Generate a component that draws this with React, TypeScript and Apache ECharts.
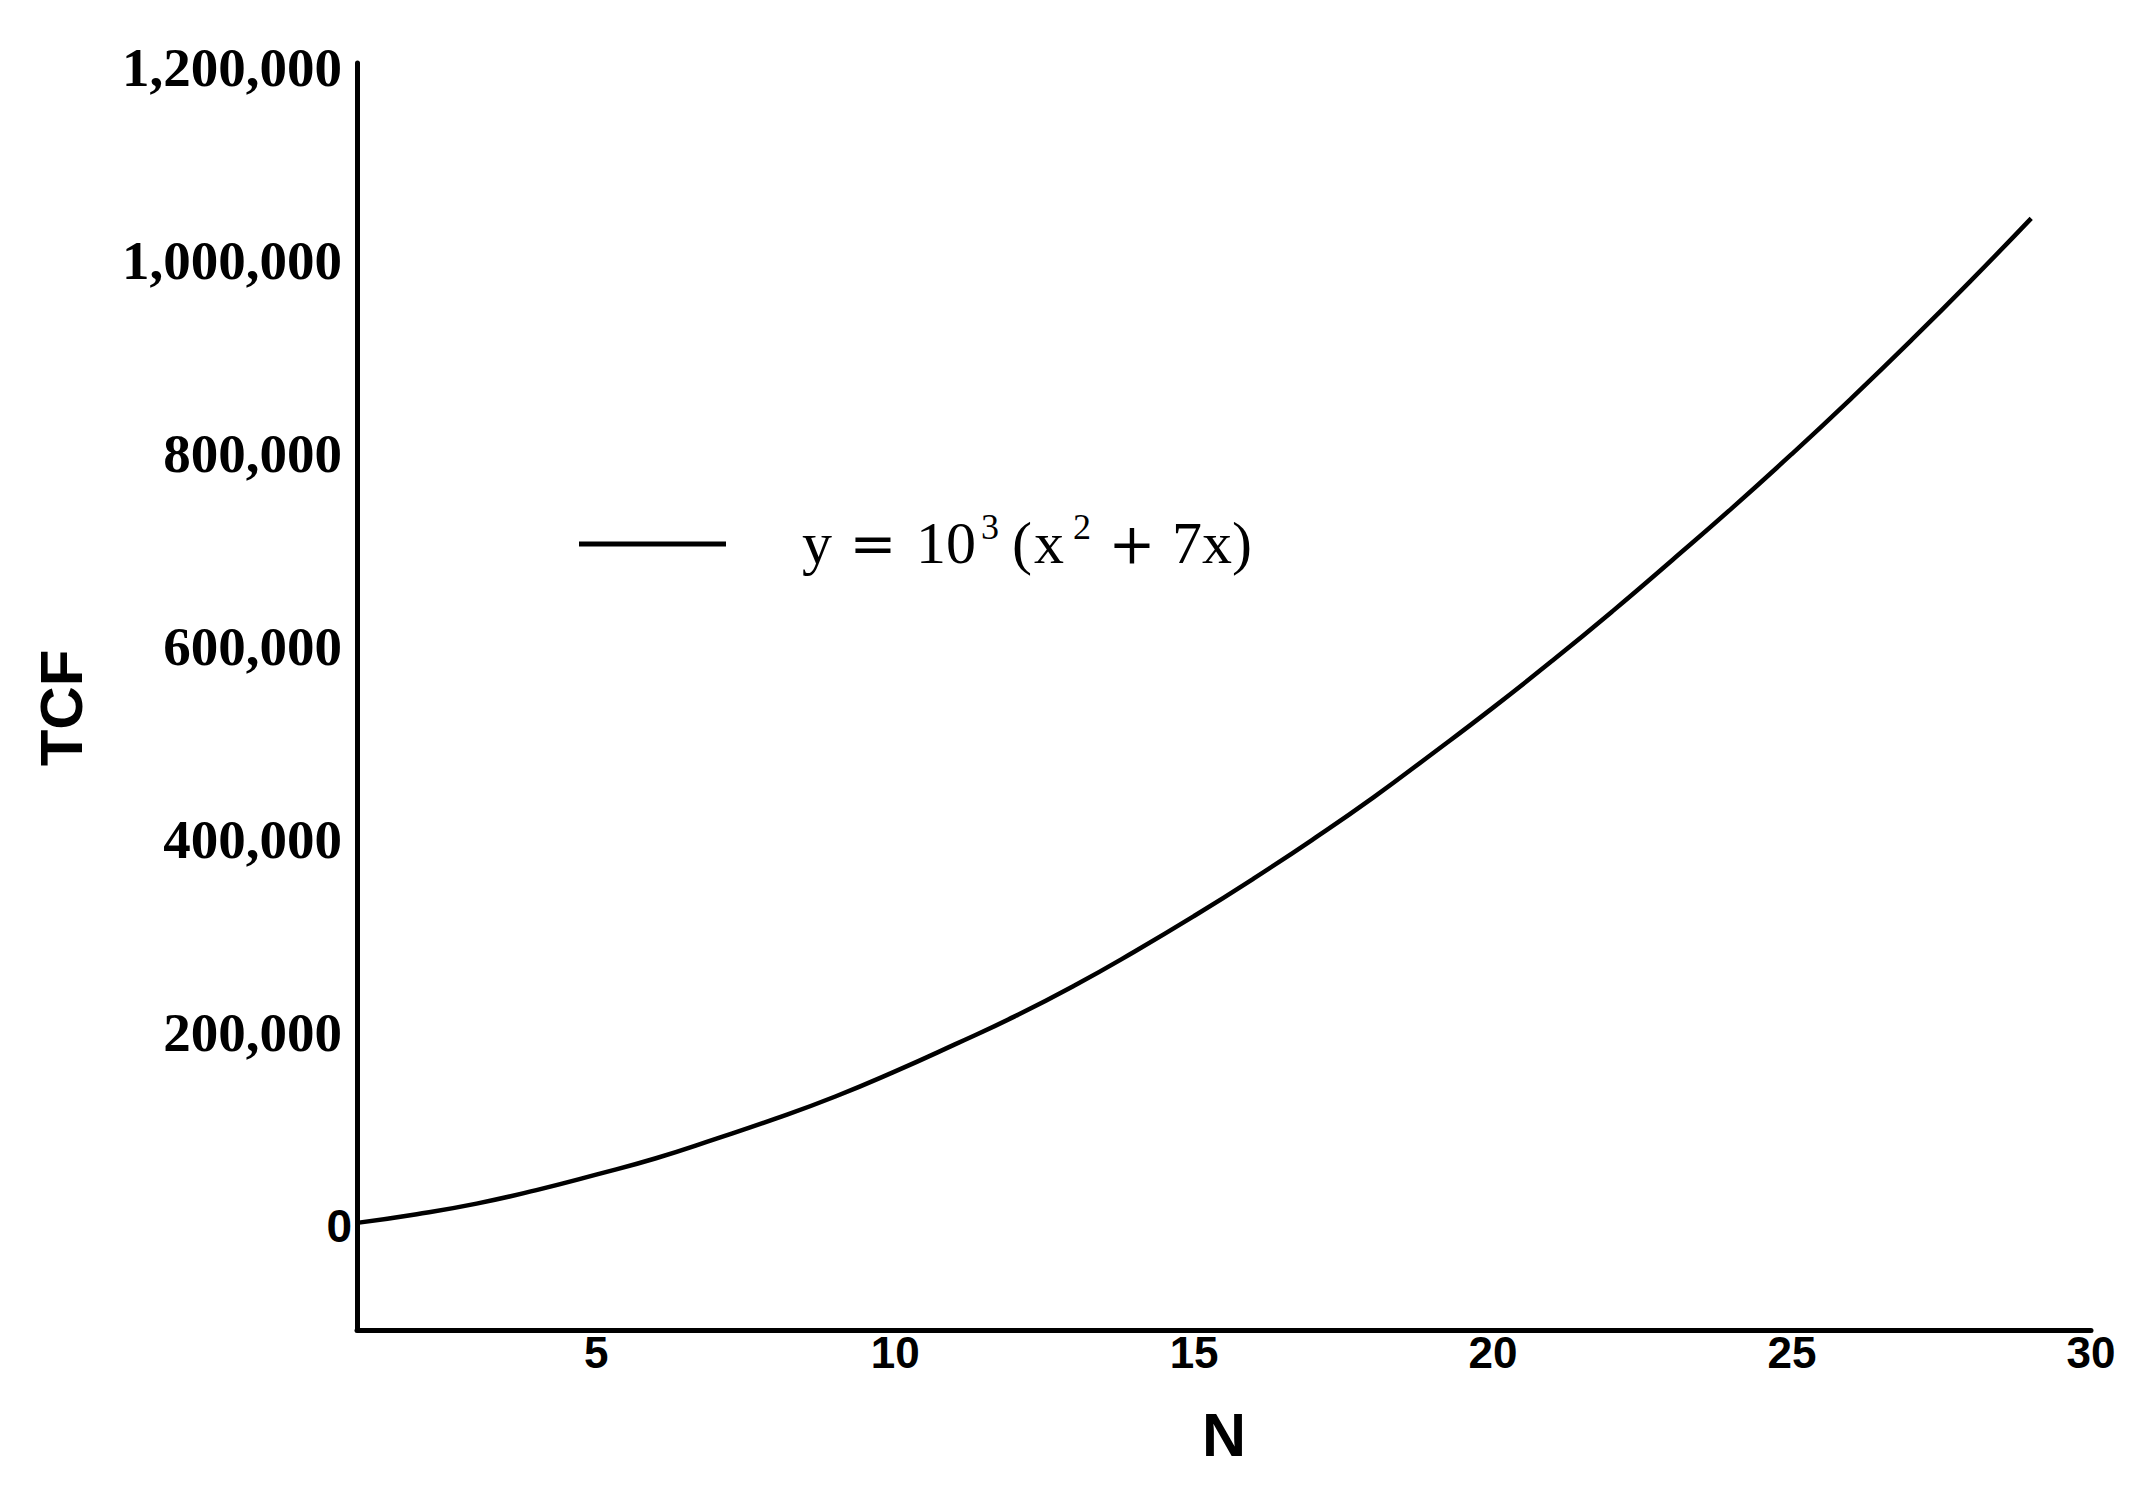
import React, { useEffect, useRef } from "react";
import * as echarts from "echarts";

const nValues = [1, 2, 3, 4, 5, 6, 7, 8, 9, 10, 11, 12, 13, 14, 15, 16, 17, 18, 19, 20, 21, 22, 23, 24, 25, 26, 27, 28, 29];
const tcfValues = [3000, 12000, 23000, 37000, 53000, 70000, 90000, 111000, 134000, 160000, 188000, 217000, 249000, 284000, 321000, 360000, 401000, 444000, 490000, 537000, 586000, 637000, 690000, 744000, 800000, 858000, 918000, 980000, 1044000];
const xTickValues = [5, 10, 15, 20, 25, 30];
const yTickValues = [0, 200000, 400000, 600000, 800000, 1000000, 1200000];
const yTickLabels = ["0", "200,000", "400,000", "600,000", "800,000", "1,000,000", "1,200,000"];
const xAxisName = "N";
const yAxisName = "TCF";

export default function App() {
  const ref = useRef<HTMLDivElement>(null);
  useEffect(() => {
    if (!ref.current) return;
    const chart = echarts.init(ref.current, null, { renderer: "svg" });
    const serif = "'Liberation Serif', 'Times New Roman', serif";
    const dserif = "'DejaVu Serif', serif";
    const sans = "'Liberation Sans', Arial, sans-serif";
    const txt = (text: string, x: number, y: number, size: number, align = "left", family = serif, weight = "normal", rotation = 0) => ({
      type: "text",
      x,
      y,
      rotation,
      silent: true,
      style: {
        text,
        fontSize: size,
        fontFamily: family,
        fontWeight: weight,
        fill: "#000",
        align,
        verticalAlign: "middle",
        textAlign: align,
        textVerticalAlign: "middle",
      },
    });
    chart.setOption({
      animation: false,
      backgroundColor: "#fff",
      grid: { left: 357, right: 52, top: 63, bottom: 158, containLabel: false },
      xAxis: {
        type: "value",
        min: 1,
        max: 30,
        name: xAxisName,
        nameLocation: "middle",
        nameGap: 74,
        nameTextStyle: { fontFamily: sans, fontWeight: "bold", fontSize: 61, color: "#000" },
        axisLine: { show: true, onZero: false, lineStyle: { color: "#000", width: 5 } },
        axisTick: { show: false },
        splitLine: { show: false },
        axisLabel: {
          customValues: xTickValues,
          margin: 0,
          fontFamily: sans,
          fontWeight: "bold",
          fontSize: 44,
          color: "#000",
        },
      },
      yAxis: {
        type: "value",
        min: -108000,
        max: 1205000,
        axisLine: { show: true, onZero: false, lineStyle: { color: "#000", width: 5 } },
        axisTick: { show: false },
        splitLine: { show: false },
        axisLabel: {
          customValues: yTickValues,
          margin: 5,
          formatter: (v: number) => {
            const i = yTickValues.indexOf(v);
            const label = i >= 0 ? yTickLabels[i] : String(v);
            return v === 0 ? "{s|" + label + "}" : "{b|" + label + "}";
          },
          rich: {
            s: { fontFamily: sans, fontWeight: "bold", fontSize: 46, color: "#000" },
            b: { fontFamily: serif, fontWeight: "bold", fontSize: 55, color: "#000", padding: [0, 10, 0, 0] },
          },
        },
      },
      series: [
        {
          type: "line",
          name: "y = 10³(x² + 7x)",
          data: nValues.map((n, i) => [n, tcfValues[i]]),
          showSymbol: false,
          symbol: "none",
          lineStyle: { color: "#000", width: 4.5 },
          smooth: true,
        },
      ],
      graphic: [
        txt(yAxisName, 61, 708, 60, "center", sans, "bold", Math.PI / 2),
        {
          type: "line",
          silent: true,
          shape: { x1: 579, y1: 544, x2: 726, y2: 544 },
          style: { stroke: "#000", lineWidth: 5 },
        },
        txt("y", 802, 543, 60),
        txt("=", 873, 543, 56, "center", dserif),
        txt("10", 916, 543, 60),
        txt("3", 981, 527, 36),
        txt("(", 1012, 543, 60),
        txt("x", 1034, 543, 60),
        txt("2", 1073, 527, 36),
        txt("+", 1132, 543, 56, "center", dserif),
        txt("7x)", 1172, 543, 60),
      ],
    });
    return () => chart.dispose();
  }, []);
  return <div ref={ref} style={{ position: "fixed", left: 0, top: 0, width: 2143, height: 1488 }} />;
}
